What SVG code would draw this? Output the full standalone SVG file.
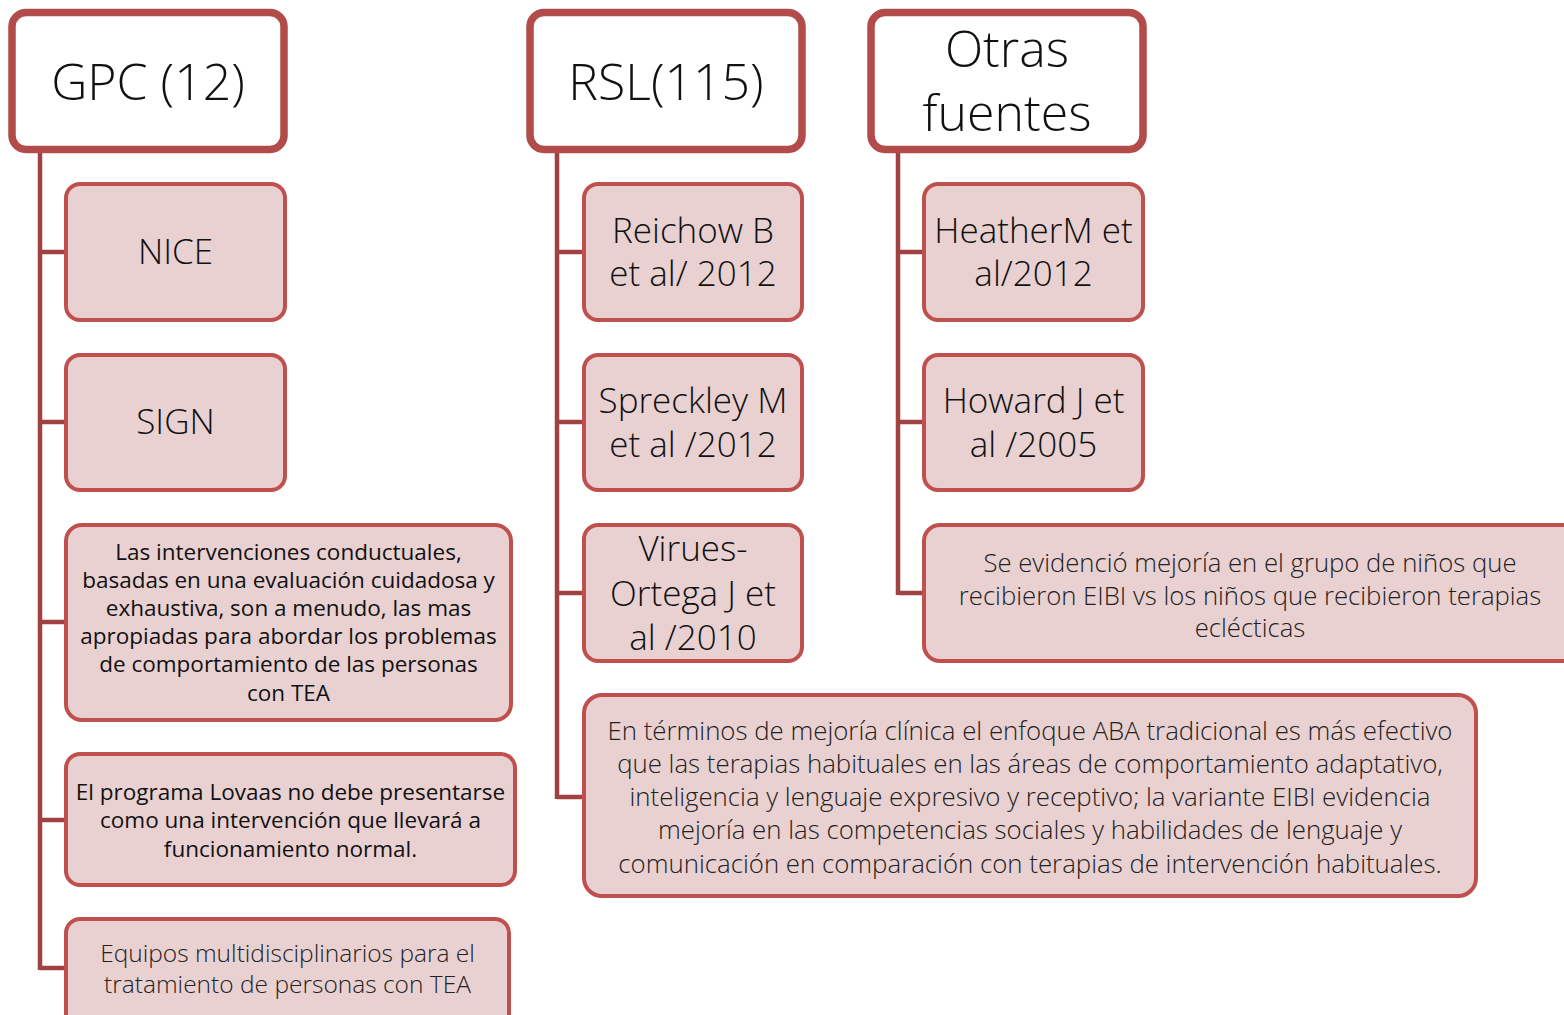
<svg xmlns="http://www.w3.org/2000/svg" width="1564" height="1015" viewBox="0 0 1564 1015">
<style>
.hdr{fill:#fff;stroke:#B24C4A;stroke-width:7.5}
.box{fill:#E9D0D1;stroke:#C0504D;stroke-width:4}
.con{stroke:#A04241;stroke-width:4.5;fill:none}
text{font-family:"Open Sans","Noto Sans","DejaVu Sans",sans-serif;fill:#111;text-anchor:middle}
.h{font-size:50px;font-weight:300}
.c{font-size:35px;font-weight:300}
.s{font-size:22.5px}
.m{font-size:25.8px;font-weight:300;fill:#222}
.v{font-size:25.7px;font-weight:300;fill:#222}
.e{font-size:24.5px;font-weight:300;fill:#222}
</style>
<rect width="1564" height="1015" fill="#fff"/>
<g id="connectors">
<path class="con" d="M40 150V970M40 252H66M40 422H66M40 622H66M40 820H66M40 968H66"/>
<path class="con" d="M557 150V799M557 252H584M557 422H584M557 593H584M557 797H584"/>
<path class="con" d="M898 150V595M898 252H924M898 422H924M898 593H924"/>
</g>
<g id="gpc"><rect class="hdr" x="12" y="12.5" width="272" height="137" rx="14"/><text class="h" x="148" y="100">GPC (12)</text></g>
<g id="rsl"><rect class="hdr" x="530" y="12.5" width="272" height="137" rx="14"/><text class="h" x="666" y="100">RSL(115)</text></g>
<g id="otras"><rect class="hdr" x="871" y="12.5" width="272" height="137" rx="14"/><text class="h" x="1007" y="67">Otras</text><text class="h" x="1007" y="131">fuentes</text></g>

<g id="nice"><rect class="box" x="66" y="184" width="219" height="136" rx="14"/><text class="c" x="175.5" y="264">NICE</text></g>
<g id="sign"><rect class="box" x="66" y="355" width="219" height="135" rx="14"/><text class="c" x="175.5" y="434">SIGN</text></g>
<g id="intervenciones"><rect class="box" x="66" y="525" width="445" height="195" rx="16"/>
<text class="s" x="288.5" y="560">Las intervenciones conductuales,</text>
<text class="s" x="288.5" y="588">basadas en una evaluación cuidadosa y</text>
<text class="s" x="288.5" y="616">exhaustiva, son a menudo, las mas</text>
<text class="s" x="288.5" y="644">apropiadas para abordar los problemas</text>
<text class="s" x="288.5" y="672">de comportamiento de las personas</text>
<text class="s" x="288.5" y="701">con TEA</text></g>
<g id="lovaas"><rect class="box" x="66" y="754" width="449" height="131" rx="14"/>
<text class="s" x="290.5" y="800">El programa Lovaas no debe presentarse</text>
<text class="s" x="290.5" y="828">como una intervención que llevará a</text>
<text class="s" x="290.5" y="857">funcionamiento normal.</text></g>
<g id="equipos"><rect class="box" x="66" y="919" width="443" height="130" rx="14"/>
<text class="e" x="287.5" y="962">Equipos multidisciplinarios para el</text>
<text class="e" x="287.5" y="993">tratamiento de personas con TEA</text></g>

<g id="reichow"><rect class="box" x="584" y="184" width="218" height="136" rx="14"/><text class="c" x="693" y="243">Reichow B</text><text class="c" x="693" y="286">et al/ 2012</text></g>
<g id="spreckley"><rect class="box" x="584" y="355" width="218" height="135" rx="14"/><text class="c" x="693" y="413">Spreckley M</text><text class="c" x="693" y="457">et al /2012</text></g>
<g id="virues"><rect class="box" x="584" y="525" width="218" height="136" rx="14"/><text class="c" x="693" y="561">Virues-</text><text class="c" x="693" y="606">Ortega J et</text><text class="c" x="693" y="650">al /2010</text></g>
<g id="aba"><rect class="box" x="584" y="695" width="892" height="201" rx="18"/>
<text class="m" x="1030" y="740">En términos de mejoría clínica el enfoque ABA tradicional es más efectivo</text>
<text class="m" x="1030" y="773">que las terapias habituales en las áreas de comportamiento adaptativo,</text>
<text class="m" x="1030" y="806">inteligencia y lenguaje expresivo y receptivo; la variante EIBI evidencia</text>
<text class="m" x="1030" y="839">mejoría en las competencias sociales y habilidades de lenguaje y</text>
<text class="m" x="1030" y="873">comunicación en comparación con terapias de intervención habituales.</text></g>

<g id="heather"><rect class="box" x="924" y="184" width="219" height="136" rx="14"/><text class="c" x="1033.5" y="243">HeatherM et</text><text class="c" x="1033.5" y="286">al/2012</text></g>
<g id="howard"><rect class="box" x="924" y="355" width="219" height="135" rx="14"/><text class="c" x="1033.5" y="413">Howard J et</text><text class="c" x="1033.5" y="457">al /2005</text></g>
<g id="eibi"><rect class="box" x="924" y="525" width="700" height="136" rx="16"/>
<text class="v" x="1250" y="572">Se evidenció mejoría en el grupo de niños que</text>
<text class="v" x="1250" y="605">recibieron EIBI vs los niños que recibieron terapias</text>
<text class="v" x="1250" y="637">eclécticas</text></g>
</svg>
